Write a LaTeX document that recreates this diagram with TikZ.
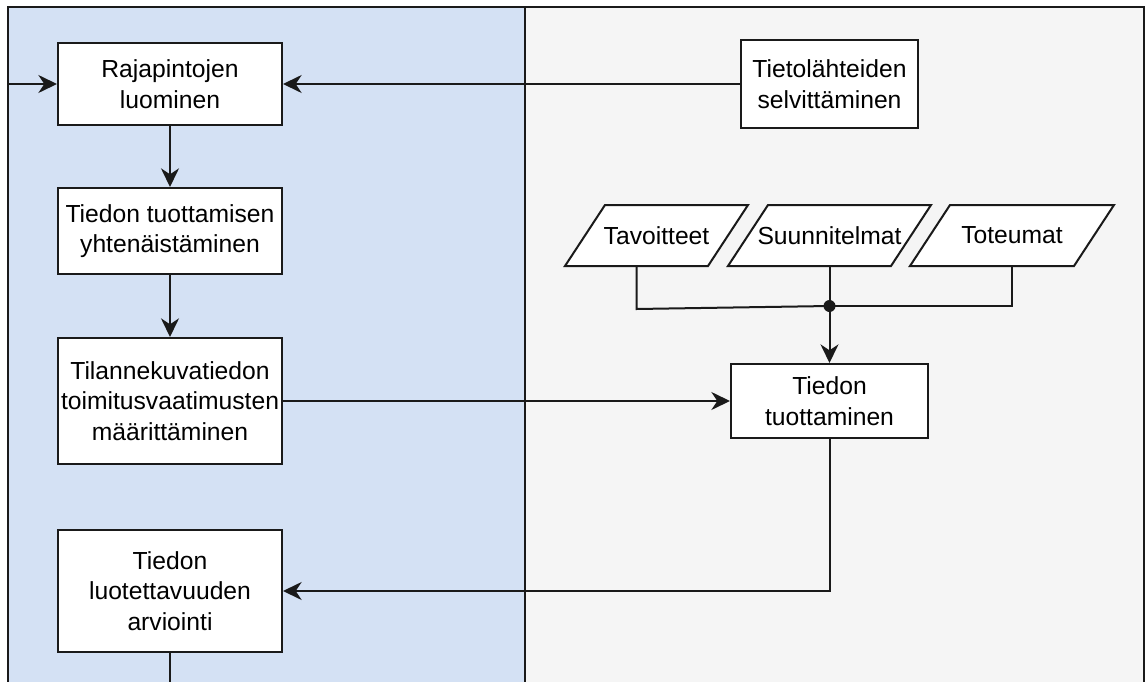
\documentclass[tikz,border=0pt]{standalone}
\usepackage{fontspec}
\setmainfont{Liberation Sans}
\usetikzlibrary{arrows.meta}

\definecolor{laneblue}{HTML}{D4E1F4}
\definecolor{lanegrey}{HTML}{F5F5F5}
\definecolor{ink}{HTML}{1A1A1A}

\tikzset{
  wire/.style={draw=ink, line width=1.5pt},
  flow/.style={wire, -{Stealth[length=14pt, width=13.5pt, inset=4.5pt]}},
  stepbox/.style={draw=ink, line width=1.5pt, fill=white, inner sep=0pt,
    align=center, font=\fontsize{18.5}{23}\selectfont},
  lbl/.style={inner sep=0pt, align=center, font=\fontsize{18.5}{23}\selectfont},
  dot/.style={circle, fill=ink, inner sep=0pt, minimum size=9pt},
}

\begin{document}
\begin{tikzpicture}[x=0.75pt, y=-0.75pt]
  \clip (0,0) rectangle (1147,682);

  % two swimlanes
  \fill[laneblue] (8,7) rectangle (525,720);
  \fill[lanegrey] (525,7) rectangle (1144,720);
  \draw[wire] (8,720) -- (8,7) -- (1144,7) -- (1144,720);
  \draw[draw=ink, line width=2pt] (525,7) -- (525,720);

  % left lane steps
  \node[stepbox, minimum width=168pt, minimum height=61.5pt] (luo) at (170,84)
    {Rajapintojen\\luominen};
  \node[stepbox, minimum width=168pt, minimum height=64.5pt] (yht) at (170,231)
    {Tiedon tuottamisen\\yhtenäistäminen};
  \node[stepbox, minimum width=168pt, minimum height=94.5pt] (vaa) at (170,401)
    {Tilannekuvatiedon\\toimitusvaatimusten\\määrittäminen};
  \node[stepbox, minimum width=168pt, minimum height=91.5pt] (arv) at (170,591)
    {Tiedon\\luotettavuuden\\arviointi};

  % right lane steps
  \node[stepbox, minimum width=132.75pt, minimum height=66pt] (tie) at (829.5,84)
    {Tietolähteiden\\selvittäminen};
  \node[stepbox, minimum width=147.75pt, minimum height=55.5pt] (tuo) at (829.5,401)
    {Tiedon\\tuottaminen};

  % data inputs
  \draw[wire, fill=white] (565,266) -- (605,205) -- (748,205) -- (708,266) -- cycle;
  \node[lbl] (tav) at (656.5,235.5) {Tavoitteet};
  \draw[wire, fill=white] (728,266) -- (768,205) -- (931,205) -- (891,266) -- cycle;
  \node[lbl] (suu) at (829.5,235.5) {Suunnitelmat};
  \draw[wire, fill=white] (910,266) -- (950,205) -- (1114,205) -- (1074,266) -- cycle;
  \node[lbl] (tot) at (1012,235.5) {Toteumat};

  \coordinate (tavB) at (636.5,266);
  \coordinate (suuB) at (829.5,266);
  \coordinate (totB) at (1012,266);
  \node[dot] (jn) at (829.5,306) {};

  % connectors
  \coordinate (inL) at (8,84);
  \coordinate (outB) at (170,700);
  \draw[flow] (inL) -- (luo.west);
  \draw[flow] (tie.west) -- (luo.east);
  \draw[flow] (luo.south) -- (yht.north);
  \draw[flow] (yht.south) -- (vaa.north);
  \draw[flow] (vaa.east) -- (tuo.west);
  \draw[wire] (tavB) -- (636.5,309) -- (jn.center);
  \draw[wire] (totB) |- (jn.center);
  \draw[wire] (suuB) -- (jn.center);
  \draw[flow] (jn.center) -- (tuo.north);
  \draw[flow] (tuo.south) |- (arv.east);
  \draw[wire] (arv.south) -- (outB);
\end{tikzpicture}
\end{document}
